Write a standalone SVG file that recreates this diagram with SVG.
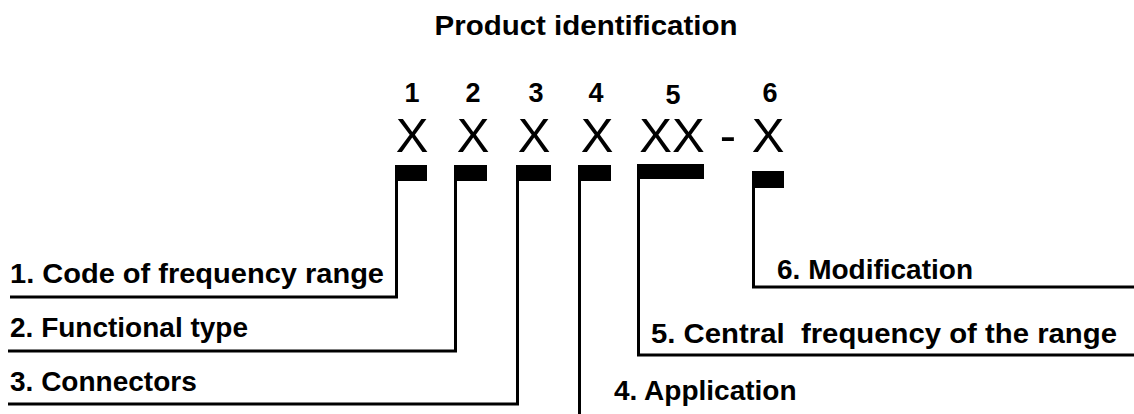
<svg xmlns="http://www.w3.org/2000/svg" width="1134" height="414" viewBox="0 0 1134 414">
<style>
.lbl{font-family:"Liberation Sans",Arial,sans-serif;font-weight:bold;font-size:28px;fill:#000}
.num{font-family:"Liberation Sans",Arial,sans-serif;font-weight:bold;font-size:27px;fill:#000;text-anchor:middle}
.x{font-family:"Liberation Sans",Arial,sans-serif;font-size:49px;fill:#000;text-anchor:middle}
.ln{fill:none;stroke:#000;stroke-width:3}
.blk{fill:#000}
</style>
<rect width="1134" height="414" fill="#fff"/>
<g id="title"><text class="lbl" x="586" y="35" text-anchor="middle" textLength="303" lengthAdjust="spacingAndGlyphs">Product identification</text></g>
<g id="code">
<text class="num" x="412" y="102">1</text>
<text class="num" x="473" y="102">2</text>
<text class="num" x="536" y="102">3</text>
<text class="num" x="596" y="102">4</text>
<text class="num" x="673" y="104">5</text>
<text class="num" x="770" y="102">6</text>
<text class="x" x="412" y="152">X</text>
<text class="x" x="473" y="152">X</text>
<text class="x" x="534" y="152">X</text>
<text class="x" x="597" y="152">X</text>
<text class="x" x="672" y="152">XX</text>
<text class="x" x="728" y="152">-</text>
<text class="x" x="768" y="152">X</text>
</g>
<g id="markers">
<rect class="blk" x="395" y="165" width="32" height="16"/>
<rect class="blk" x="454" y="165" width="33" height="16"/>
<rect class="blk" x="516" y="165" width="35" height="16"/>
<rect class="blk" x="578" y="165" width="33" height="16"/>
<rect class="blk" x="637" y="164" width="67" height="15"/>
<rect class="blk" x="752" y="171" width="32" height="17"/>
</g>
<g id="connectors">
<polyline class="ln" points="396.5,181 396.5,297 10,297"/>
<polyline class="ln" points="455.5,181 455.5,351 8,351"/>
<polyline class="ln" points="517.5,181 517.5,404 8,404"/>
<polyline class="ln" points="579.5,181 579.5,414"/>
<polyline class="ln" points="638.5,179 638.5,355 1134,355"/>
<polyline class="ln" points="753.5,188 753.5,287 1134,287"/>
</g>
<g id="label1"><text class="lbl" x="10" y="283" textLength="374" lengthAdjust="spacingAndGlyphs">1. Code of frequency range</text></g>
<g id="label2"><text class="lbl" x="10" y="337">2. Functional type</text></g>
<g id="label3"><text class="lbl" x="10" y="391">3. Connectors</text></g>
<g id="label4"><text class="lbl" x="614" y="400">4. Application</text></g>
<g id="label5"><text class="lbl" x="651" y="343" xml:space="preserve" textLength="466" lengthAdjust="spacingAndGlyphs">5. Central  frequency of the range</text></g>
<g id="label6"><text class="lbl" x="777" y="279">6. Modification</text></g>
</svg>
